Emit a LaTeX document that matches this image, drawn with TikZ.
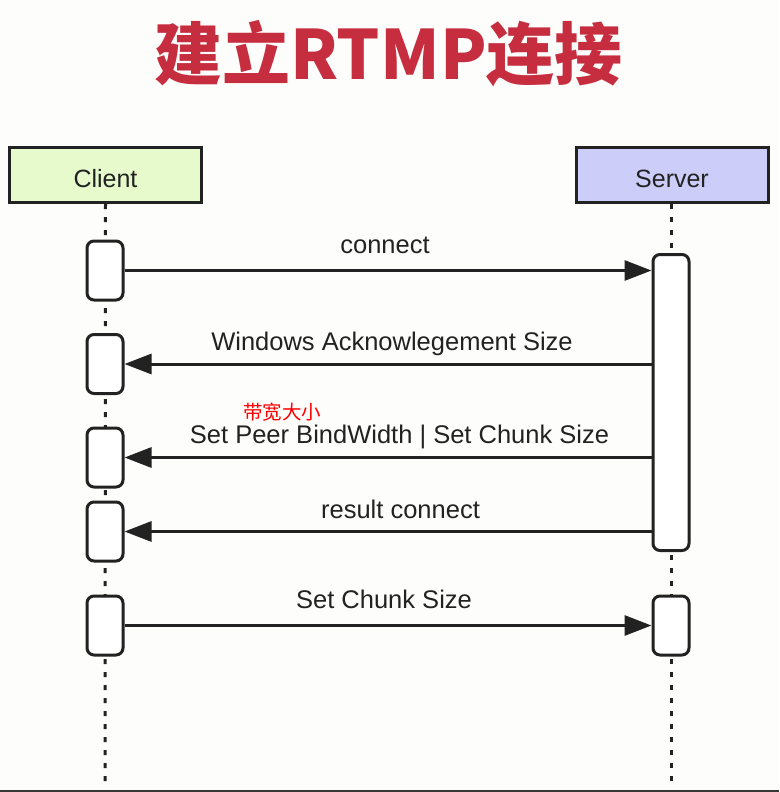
\documentclass[tikz,border=0pt]{standalone}
\usepackage{fontspec}
\setmainfont{Liberation Sans}
\newfontfamily\cjk{Noto Sans CJK SC}
\usetikzlibrary{arrows.meta}
\definecolor{bg}{HTML}{FDFDFB}
\definecolor{ink}{HTML}{222222}
\definecolor{titlered}{HTML}{C62D3E}
\definecolor{clientfill}{HTML}{E6FACC}
\definecolor{serverfill}{HTML}{CDCDFA}
\tikzset{
  header/.style={draw=ink, line width=3pt, minimum width=192pt, minimum height=55pt, inner sep=0pt, text height=24pt, text depth=0pt, font=\fontsize{25}{30}\selectfont, text=ink},
  actbox/.style={draw=ink, fill=white, line width=3pt, rounded corners=7pt, minimum width=36pt, inner sep=0pt},
  life/.style={draw=ink, line width=3pt, dash pattern=on 5pt off 8pt},
  msg/.style={draw=ink, line width=3pt, -{Triangle[length=27pt,width=20pt]}},
  lbl/.style={anchor=base, font=\fontsize{25.5}{30}\selectfont, text=ink, inner sep=0pt},
}
\begin{document}
\begin{tikzpicture}[x=1pt,y=-1pt]
\fill[bg] (0,0) rectangle (779,792);
\useasboundingbox (0,0) rectangle (779,792);
\draw[line width=2.5pt, draw=ink!90] (0,790.75) -- (779,790.75);
% title
\node[text=titlered, font=\cjk\bfseries\fontsize{68}{78}\selectfont, inner sep=0pt] (title) at (388.5,54) {建立RTMP连接};
% headers
\node[header, fill=clientfill] (client) at (105.5,175) {Client};
\node[header, fill=serverfill] (server) at (672,175) {Server};
% lifelines
\coordinate (cend) at (105,788);
\coordinate (send) at (671,788);
\draw[life] (client.south) -- (cend);
\draw[life] (server.south -| send) -- (send);
% activations
\node[actbox, minimum height=59pt] (c1) at (105,270.5) {};
\node[actbox, minimum height=59pt] (c2) at (105,364) {};
\node[actbox, minimum height=59pt] (c3) at (105,457.5) {};
\node[actbox, minimum height=59pt] (c4) at (105,531.5) {};
\node[actbox, minimum height=59pt] (c5) at (105,625.5) {};
\node[actbox, minimum height=296pt] (s1) at (671,402.5) {};
\node[actbox, minimum height=59pt] (s2) at (671,625.5) {};
% messages
\draw[msg] (c1.east) -- (s1.west |- c1.east);
\draw[msg] (s1.west |- c2.east) -- (c2.east);
\draw[msg] (s1.west |- c3.east) -- (c3.east);
\draw[msg] (s1.west |- c4.east) -- (c4.east);
\draw[msg] (c5.east) -- (s2.west);
% labels
\node[lbl] (l1) at (385,253) {connect};
\node[lbl] (l2) at (392,350) {Windows Acknowlegement Size};
\node[lbl] (l3) at (399.5,443) {Set Peer BindWidth | Set Chunk Size};
\node[lbl] (l4) at (400.5,518) {result connect};
\node[lbl] (l5) at (384,608) {Set Chunk Size};
\node[text=red, font=\cjk\fontsize{19.5}{24}\selectfont, inner sep=0pt, anchor=west] (note) at (243,412) {带宽大小};
\end{tikzpicture}
\end{document}
